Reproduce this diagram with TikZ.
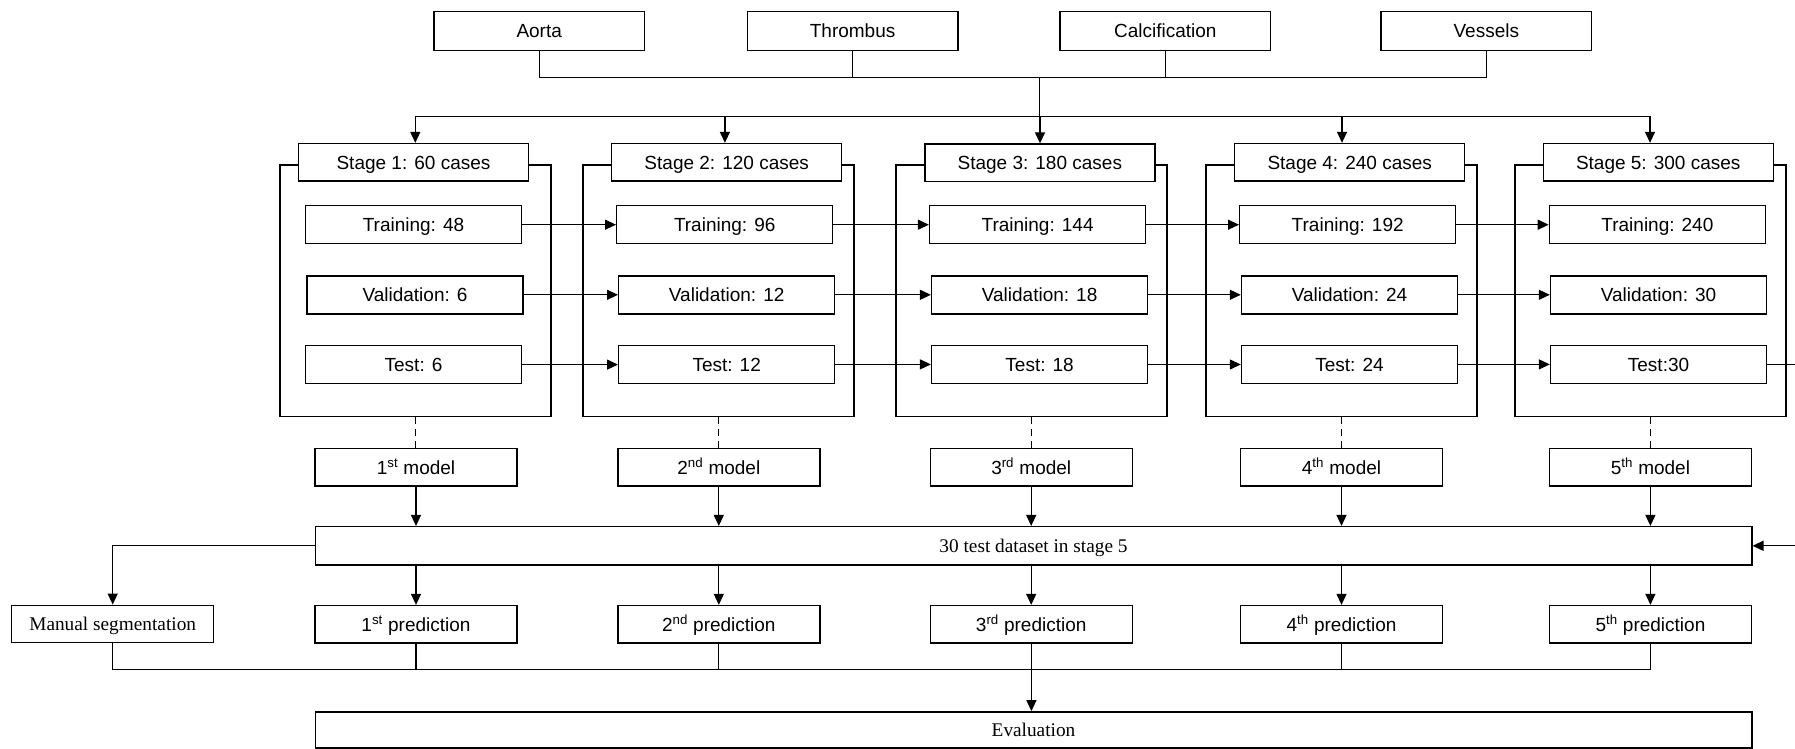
\documentclass[tikz,border=0pt]{standalone}
\usepackage{fontspec}
\setmainfont{Liberation Serif}
\setsansfont{Liberation Sans}
\usetikzlibrary{arrows.meta}

\begin{document}
\begin{tikzpicture}[x=1pt, y=-1pt,
  line width=1.3pt,
  box/.style={draw, fill=white, line width=1.4pt, inner sep=0pt,
    text height=13.6pt, text depth=0pt,
    font=\sffamily\fontsize{19}{22}\selectfont},
  serif/.style={text height=12.8pt, text depth=0pt,
    font=\rmfamily\fontsize{19.3}{22}\selectfont},
  topbox/.style={box, minimum width=210.5pt, minimum height=38.5pt},
  header/.style={box, minimum width=230pt, minimum height=37.5pt},
  split/.style={box, minimum width=216pt, minimum height=38pt},
  stagebox/.style={draw, line width=1.4pt, inner sep=0pt, minimum width=271pt, minimum height=251.5pt},
  small/.style={box, minimum width=202pt, minimum height=37.5pt},
  wide/.style={box, serif, minimum width=1436.6pt},
  arr/.style={-{Triangle[length=11pt, width=10pt]}},
  link/.style={line width=1.3pt},
  dashlink/.style={line width=1.3pt, dash pattern=on 7pt off 5pt}
]
\useasboundingbox (0,0) rectangle (1795,749);

% segmentation targets
\node[topbox] (aorta) at (539.2,31) {Aorta};
\node[topbox] (thrombus) at (852.6,31) {Thrombus};
\node[topbox] (calc) at (1165.3,31) {Calcification};
\node[topbox] (vessels) at (1486.3,31) {Vessels};

\coordinate (join) at (1039.8,77.3);
\coordinate (dist) at (1039.8,116.5);

% stage frames
\node[stagebox] (o1) at (415.4,290.8) {};
\node[stagebox] (o2) at (718.6,290.8) {};
\node[stagebox] (o3) at (1031.6,290.8) {};
\node[stagebox] (o4) at (1341.6,290.8) {};
\node[stagebox] (o5) at (1650.6,290.8) {};

% stage headers
\node[header] (h1) at (413.5,162.3) {Stage 1: 60 cases};
\node[header] (h2) at (726.7,162.3) {Stage 2: 120 cases};
\node[header] (h3) at (1039.8,162.8) {Stage 3: 180 cases};
\node[header] (h4) at (1349.7,162.3) {Stage 4: 240 cases};
\node[header] (h5) at (1658.2,162.3) {Stage 5: 300 cases};

% data splits
\node[split] (t1) at (413.5,224.7) {Training: 48};
\node[split] (v1) at (415,294.8) {Validation: 6};
\node[split] (s1) at (413.5,364.6) {Test: 6};
\node[split] (t2) at (724.7,224.7) {Training: 96};
\node[split] (v2) at (726.7,294.8) {Validation: 12};
\node[split] (s2) at (726.7,364.4) {Test: 12};
\node[split] (t3) at (1037.6,224.7) {Training: 144};
\node[split] (v3) at (1039.6,294.8) {Validation: 18};
\node[split] (s3) at (1039.6,364.5) {Test: 18};
\node[split] (t4) at (1347.7,224.7) {Training: 192};
\node[split] (v4) at (1349.5,294.8) {Validation: 24};
\node[split] (s4) at (1349.5,364.4) {Test: 24};
\node[split] (t5) at (1657.4,224.7) {Training: 240};
\node[split] (v5) at (1658.5,294.8) {Validation: 30};
\node[split] (s5) at (1658.5,364.4) {Test:30};

% models
\node[small] (m1) at (416,467.3) {1\textsuperscript{st} model};
\node[small] (m2) at (718.8,467.3) {2\textsuperscript{nd} model};
\node[small] (m3) at (1031.2,467.3) {3\textsuperscript{rd} model};
\node[small] (m4) at (1341.5,467.3) {4\textsuperscript{th} model};
\node[small] (m5) at (1650.4,467.3) {5\textsuperscript{th} model};

% shared test set
\node[wide, minimum height=38.3pt] (ds) at (1033.5,545.8) {30 test dataset in stage 5};

% predictions
\node[small, serif] (man) at (112.7,624) {Manual segmentation};
\node[small] (p1) at (416,624.3) {1\textsuperscript{st} prediction};
\node[small] (p2) at (718.8,624.3) {2\textsuperscript{nd} prediction};
\node[small] (p3) at (1031.2,624.3) {3\textsuperscript{rd} prediction};
\node[small] (p4) at (1341.5,624.3) {4\textsuperscript{th} prediction};
\node[small] (p5) at (1650.4,624.3) {5\textsuperscript{th} prediction};

% evaluation
\node[wide, minimum height=36pt] (ev) at (1033.5,729.8) {Evaluation};

% targets merge into one trunk
\draw[link] (aorta.south) -- (aorta.south |- join) -- (vessels.south |- join) -- (vessels.south);
\draw[link] (thrombus.south) -- (thrombus.south |- join);
\draw[link] (calc.south) -- (calc.south |- join);
\draw[link] (join) -- (dist);

% trunk fans out to every stage
\coordinate (d1) at (415.3,116.5);
\coordinate (d2) at (724.9,116.5);
\coordinate (d3) at (1040,116.5);
\coordinate (d4) at (1342,116.5);
\coordinate (d5) at (1650,116.5);
\draw[link] (d1) -- (d5);
\draw[arr] (d1) -- (d1 |- h1.north);
\draw[arr] (d2) -- (d2 |- h2.north);
\draw[arr] (d3) -- (d3 |- h3.north);
\draw[arr] (d4) -- (d4 |- h4.north);
\draw[arr] (d5) -- (d5 |- h5.north);

% splits carried over from stage to stage
\foreach \a/\b in {t1/t2,t2/t3,t3/t4,t4/t5,v1/v2,v2/v3,v3/v4,v4/v5,s1/s2,s2/s3,s3/s4,s4/s5}
  \draw[arr] (\a.east) -- (\a.east -| \b.west);

% test set of the last stage loops back to the shared test set
\coordinate (outA) at (1795,364.4);
\coordinate (outB) at (1795,545.8);
\draw[link] (s5.east) -- (outA);
\draw[arr] (outB) -- (ds.east);

% each stage yields a model
\foreach \i in {1,...,5} {
  \draw[dashlink] (o\i.south) -- (o\i.south |- m\i.north);
  \draw[arr] (m\i.south) -- (m\i.south |- ds.north);
  \draw[arr] (p\i.north |- ds.south) -- (p\i.north);
}

% ground truth branch
\draw[arr] (ds.west) -| (man.north);

% all predictions gathered for evaluation
\coordinate (bus) at (1031.4,669.3);
\draw[link] (man.south) -- (man.south |- bus) -- (p5.south |- bus) -- (p5.south);
\foreach \i in {1,...,4}
  \draw[link] (p\i.south) -- (p\i.south |- bus);
\draw[arr] (bus) -- (bus |- ev.north);

\end{tikzpicture}
\end{document}
